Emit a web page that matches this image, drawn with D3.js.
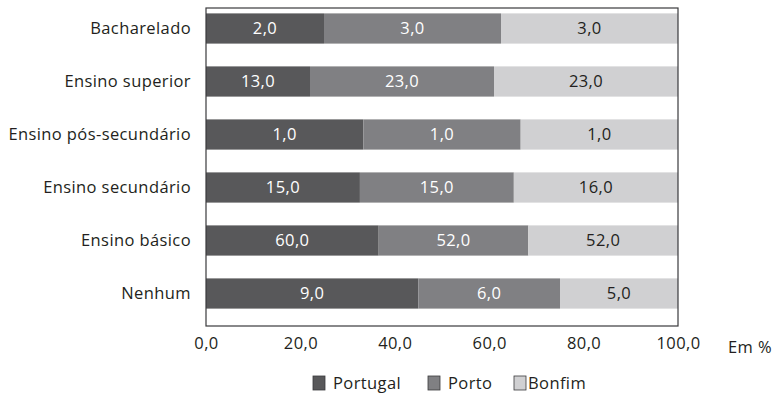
<!DOCTYPE html>
<html>
<head>
<meta charset="utf-8">
<script src="https://cdn.jsdelivr.net/npm/d3@7"></script>
<style>
  body { margin: 0; background: #fff; }
  text { font-family: "Open Sans", sans-serif; font-size: 16.5px; letter-spacing: 0.4px; }
</style>
</head>
<body>
<div id="chart"></div>
<script>
// dados
var categories = ["Bacharelado", "Ensino superior", "Ensino pós-secundário", "Ensino secundário", "Ensino básico", "Nenhum"];
var seriesNames = ["Portugal", "Porto", "Bonfim"];
var portugal = [2, 13, 1, 15, 60, 9];
var porto = [3, 23, 1, 15, 52, 6];
var bonfim = [3, 23, 1, 16, 52, 5];
var tickValues = [0, 20, 40, 60, 80, 100];
var colors = ["#58585a", "#808083", "#d0d0d2"];
var labelColors = ["#ffffff", "#ffffff", "#231f20"];

var rows = categories.map(function(c, i) {
  return {cat: c, Portugal: portugal[i], Porto: porto[i], Bonfim: bonfim[i]};
});

var margin = {top: 8, right: 95, bottom: 69, left: 206},
    width = 773 - margin.left - margin.right,
    height = 395 - margin.top - margin.bottom;

var svg = d3.select("#chart")
  .append("svg")
    .attr("width", 773)
    .attr("height", 395)
  .append("g")
    .attr("transform", "translate(" + margin.left + "," + margin.top + ")");

var x = d3.scaleLinear()
  .domain([0, 100])
  .range([0, width]);

var y = d3.scaleBand()
  .domain(categories)
  .range([-6, height - 6])
  .paddingInner(0.43)
  .paddingOuter(0.215);

var stack = d3.stack()
  .keys(seriesNames)
  .offset(d3.stackOffsetExpand);

var layers = stack(rows);

var fmt = function(v) { return d3.format(".1f")(v).replace(".", ","); };

var layer = svg.selectAll("g.layer")
  .data(layers)
  .enter().append("g")
    .attr("class", "layer")
    .attr("fill", function(d, i) { return colors[i]; });

layer.selectAll("rect")
  .data(function(d) { return d; })
  .enter().append("rect")
    .attr("x", function(d) { return x(d[0] * 100); })
    .attr("y", function(d) { return y(d.data.cat); })
    .attr("width", function(d) { return x(d[1] * 100) - x(d[0] * 100); })
    .attr("height", y.bandwidth());

layer.each(function(L, li) {
  d3.select(this).selectAll("text")
    .data(L)
    .enter().append("text")
      .attr("x", function(d) { return (x(d[0] * 100) + x(d[1] * 100)) / 2; })
      .attr("y", function(d) { return y(d.data.cat) + y.bandwidth() / 2; })
      .attr("dy", "0.36em")
      .attr("text-anchor", "middle")
      .attr("fill", labelColors[li])
      .text(function(d) { return fmt(d.data[L.key]); });
});

// moldura
svg.append("rect")
  .attr("x", 0).attr("y", 0)
  .attr("width", width).attr("height", height)
  .attr("fill", "none")
  .attr("stroke", "#3a3a3c")
  .attr("stroke-width", 1.2);

// categorias
svg.selectAll("text.cat")
  .data(categories)
  .enter().append("text")
    .attr("class", "cat")
    .attr("x", -15)
    .attr("y", function(d) { return y(d) + y.bandwidth() / 2; })
    .attr("dy", "0.36em")
    .attr("text-anchor", "end")
    .attr("fill", "#231f20")
    .text(function(d) { return d; });

// eixo x
var xAxis = svg.append("g")
  .attr("transform", "translate(0," + height + ")")
  .call(d3.axisBottom(x).tickValues(tickValues).tickSize(0).tickPadding(11).tickFormat(fmt));
xAxis.select(".domain").remove();
xAxis.selectAll("text")
  .style("font-size", "16.5px")
  .style("font-family", "'Open Sans', sans-serif")
  .attr("fill", "#231f20");

svg.append("text")
  .attr("x", width + 50)
  .attr("y", height + 21)
  .attr("dy", "0.36em")
  .attr("fill", "#231f20")
  .text("Em %");

// legenda
var legendX = [107, 222, 308];
var legend = svg.selectAll("g.legend")
  .data(seriesNames)
  .enter().append("g")
    .attr("class", "legend")
    .attr("transform", function(d, i) { return "translate(" + legendX[i] + "," + (height + 50) + ")"; });

legend.append("rect")
  .attr("width", 12).attr("height", 14)
  .attr("fill", function(d, i) { return colors[i]; })
  .attr("stroke", "#3a3a3c")
  .attr("stroke-width", 0.8);

legend.append("text")
  .attr("x", function(d, i) { return i == 2 ? 14 : 20; })
  .attr("y", 7)
  .attr("dy", "0.36em")
  .attr("fill", "#231f20")
  .text(function(d) { return d; });
</script>
</body>
</html>
